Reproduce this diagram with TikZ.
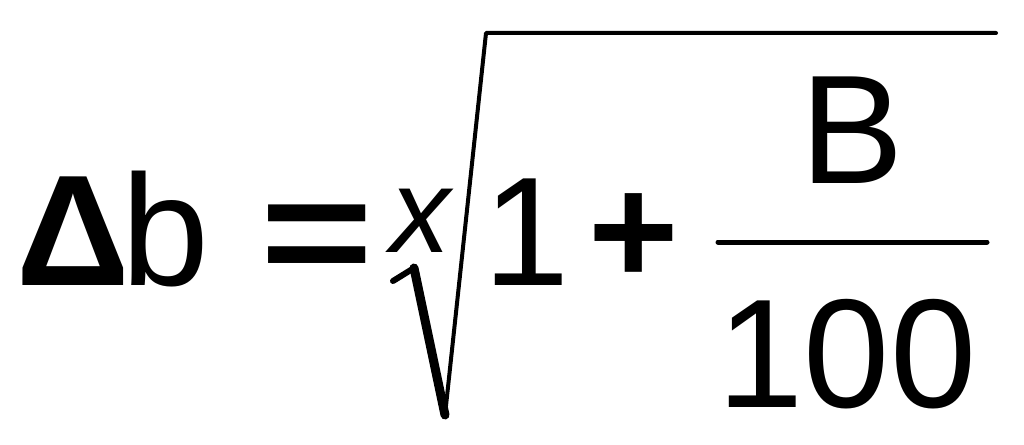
\documentclass[tikz,border=0pt]{standalone}
\usepackage{fontspec}
\setmainfont{Liberation Sans}
\tikzset{
  glyph/.style={inner sep=0pt, outer sep=0pt, anchor=base, font=\fontsize{155}{155}\selectfont},
  rad/.style={line join=round, line cap=round, black}
}
\begin{document}
\begin{tikzpicture}[x=1pt,y=-1pt]
\useasboundingbox (0,0) rectangle (1024,444);
\node[glyph, font=\bfseries\fontsize{158}{158}\selectfont] (delta) at (73,285) {Δ};
\node[glyph, font=\fontsize{158}{158}\selectfont] (b) at (165,285) {b};
\node[glyph, font=\bfseries\fontsize{155}{155}\selectfont, xscale=1.25] (eq) at (317,285) {=};
\node[glyph, font=\itshape\fontsize{120}{120}\selectfont] (x) at (420,252) {x};
\node[glyph] (one) at (527,285) {1};
\node[glyph, font=\bfseries\fontsize{155}{155}\selectfont] (plus) at (634,284) {+};
\node[glyph] (B) at (852,183) {B};
\node[glyph] (hundred) at (847,407) {100};
\coordinate (h0) at (393,281);
\coordinate (h1) at (414,268);
\coordinate (v0) at (445,415);
\coordinate (t0) at (486,33);
\coordinate (t1) at (996,33);
\draw[rad, line width=6pt] (h0) -- (h1);
\draw[rad, line width=9pt] (h1) -- (v0);
\draw[rad, line width=4pt] (v0) -- (t0) -- (t1);
\coordinate (f0) at (718,242);
\coordinate (f1) at (987,242);
\draw[line width=5pt, line cap=round] (f0) -- (f1);
\end{tikzpicture}
\end{document}
